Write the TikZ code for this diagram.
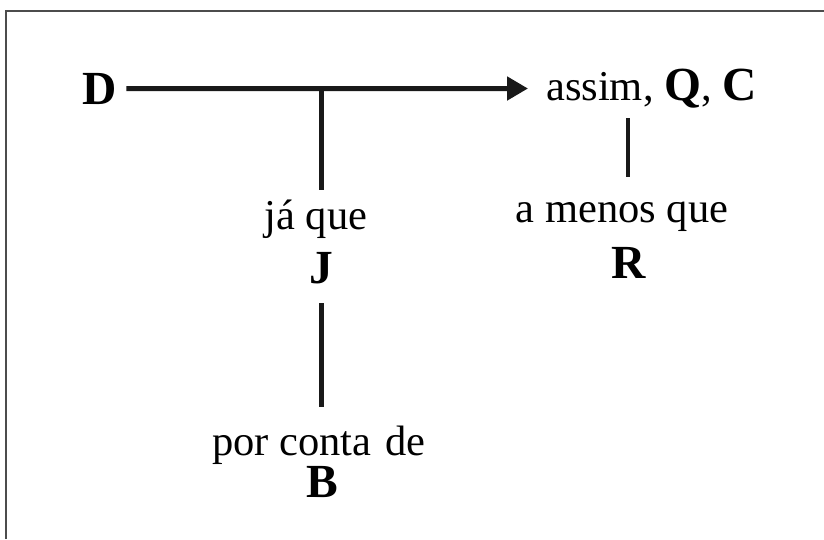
\documentclass[tikz,border=0pt]{standalone}
\usepackage{fontspec}
\setmainfont{Liberation Serif}
\usetikzlibrary{arrows.meta}
\begin{document}
\begin{tikzpicture}[x=1pt,y=-1pt,
  lbl/.style={font=\fontsize{42.5}{42.5}\selectfont, inner sep=0pt, anchor=base},
  var/.style={font=\fontsize{47.5}{47.5}\selectfont\bfseries, inner sep=0pt, anchor=base},
  link/.style={line width=4.5pt, line cap=butt, draw=black!90},
  frame/.style={line width=2pt, draw=black!70}]
\useasboundingbox (0,0) rectangle (824,539);
% partial frame: top and left edges only
\draw[frame] (6,539) -- (6,11) -- (824,11);

% terms
\node[var] (D) at (100,104) {D};
\node[lbl, anchor=base west] (QC) at (546,100)
  {assim, {\fontsize{47.5}{47.5}\selectfont\bfseries Q}, {\fontsize{47.5}{47.5}\selectfont\bfseries C}};
\node[lbl] (jaque) at (316,229) {já que};
\node[var] (J) at (321,283) {J};
\node[lbl] (porconta) at (319,455) {por conta\hspace{14pt}de};
\node[var] (B) at (322,497) {B};
\node[lbl] (amenos) at (622,222) {a menos que};
\node[var] (R) at (629,278) {R};

% connector end points
\coordinate (tip) at (528,88.5);
\coordinate (T) at (321.5,88.5);
\coordinate (Tend) at (321.5,190);
\coordinate (Jtop) at (321.5,303);
\coordinate (Jbot) at (321.5,407);
\coordinate (Qtop) at (628,118);
\coordinate (Qbot) at (628,177);

% main arrow from D to the conclusion
\draw[link, line width=5pt, shorten <=9pt, -{Triangle[length=21pt,width=23pt]}] (D.east) -- (tip);
% warrant branch
\draw[link] (T) -- (Tend);
\draw[link] (Jtop) -- (Jbot);
% rebuttal branch
\draw[link] (Qtop) -- (Qbot);
\end{tikzpicture}
\end{document}
